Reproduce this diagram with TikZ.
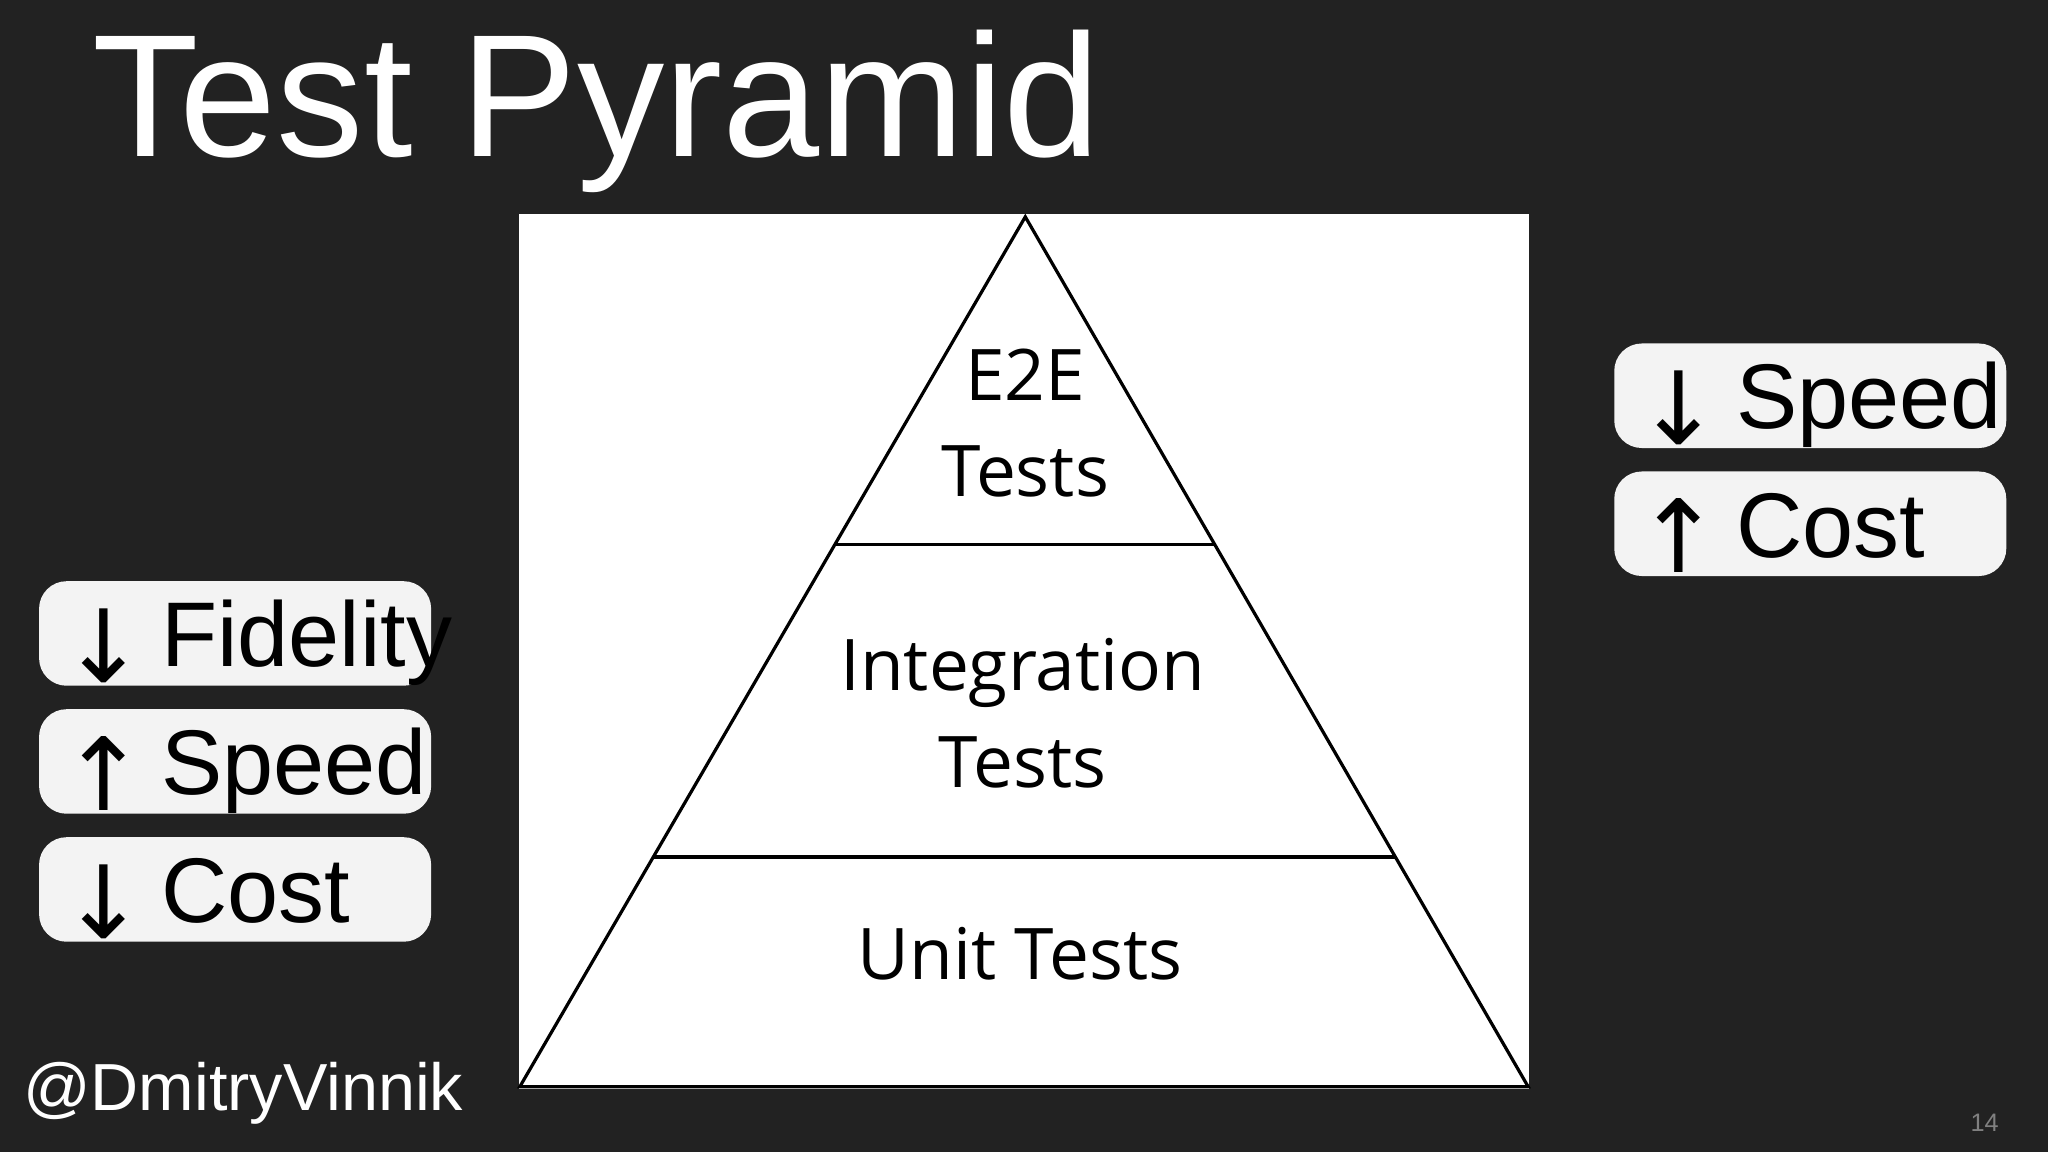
\documentclass[tikz,border=0pt]{standalone}
\usepackage{fontspec}
\usetikzlibrary{calc}
\setmainfont{Liberation Sans}
\newfontfamily\pyr{Open Sans}
\newfontfamily\arr{DejaVu Sans}
\definecolor{bg}{HTML}{222222}
\definecolor{boxc}{HTML}{F3F3F3}
\begin{document}
\begin{tikzpicture}[x=0.01cm,y=-0.01cm,
  tag/.style={fill=boxc,rounded corners=6pt,minimum width=3cm,minimum height=0.8cm,inner sep=0pt},
  tagtext/.style={anchor=west,font=\fontsize{20}{24}\selectfont,text=black,inner sep=0pt},
  ptext/.style={font=\pyr\fontsize{15.5}{21}\selectfont,align=center,text=black}]
\fill[bg] (0,0) rectangle (1568,882);
\useasboundingbox (0,0) rectangle (1568,882);
\node[anchor=base west,text=white,font=\fontsize{38}{40}\selectfont,inner sep=0pt] (title) at (70,120) {Test Pyramid};
\fill[white] (397,164) rectangle (1171,834);
\coordinate (apex) at (785,166);
\coordinate (bl) at (398,832);
\coordinate (br) at (1170,832);
\draw[line width=0.7pt] (apex) -- (bl) -- (br) -- cycle;
\coordinate (l1) at ($(apex)!0.377!(bl)$);
\coordinate (r1) at ($(apex)!0.377!(br)$);
\coordinate (l2) at ($(apex)!0.736!(bl)$);
\coordinate (r2) at ($(apex)!0.736!(br)$);
\draw[line width=0.7pt] (l1) -- (r1) (l2) -- (r2);
\node[ptext] (e2e) at (785,324) {E2E\\Tests};
\node[ptext] (integ) at (783,546) {Integration\\Tests};
\node[ptext] (unit) at (781,730) {Unit Tests};
\node[tag] (f) at (180,485) {};
\node[tag] (s) at (180,583) {};
\node[tag] (c) at (180,681) {};
\node[tag] (rs) at (1386,303) {};
\node[tag] (rc) at (1386,401) {};
\foreach \n/\a/\t in {f/↓/Fidelity,s/↑/Speed,c/↓/Cost,rs/↓/Speed,rc/↑/Cost}
  \node[tagtext] at ([xshift=0.17cm,yshift=-0.07cm]\n.west) {{\arr\fontsize{22}{24}\selectfont\raisebox{-0.12cm}{\a}}\,\t};
\node[anchor=base west,text=white,font=\fontsize{14.5}{16}\selectfont,inner sep=0pt] (handle) at (17,850) {@DmitryVinnik};
\node[anchor=base east,text=gray,font=\fontsize{5.5}{6}\selectfont,inner sep=0pt] (pg) at (1531,866) {14};
\end{tikzpicture}
\end{document}
